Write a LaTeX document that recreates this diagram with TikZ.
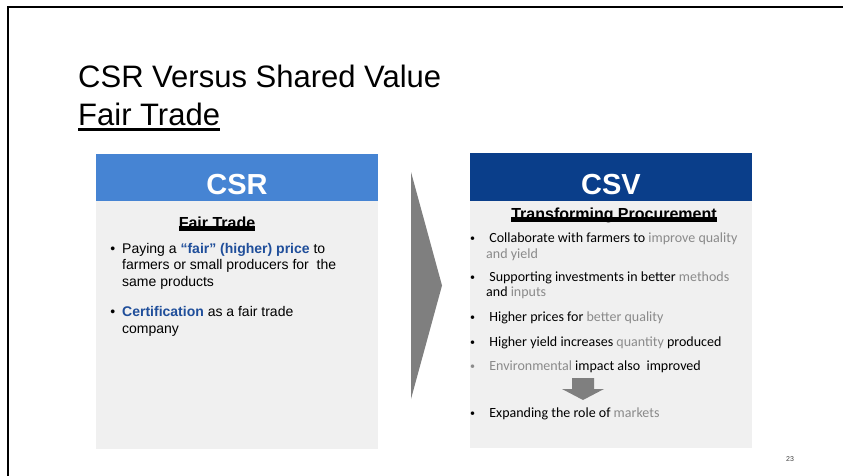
\documentclass[tikz,border=0pt]{standalone}
\usepackage{fontspec}
\setmainfont{Liberation Sans}
\newfontfamily\calibri{Carlito}
\definecolor{csrblue}{HTML}{4684D3}
\definecolor{csvblue}{HTML}{0A3E8A}
\definecolor{panelgray}{HTML}{F0F0F0}
\definecolor{keyblue}{HTML}{1F4E9A}
\definecolor{softgray}{HTML}{8A8A8A}
\definecolor{arrowgray}{HTML}{7F7F7F}
\newcommand\keytext[1]{\textcolor{keyblue}{\textbf{#1}}}
\newcommand\softtext[1]{\textcolor{softgray}{#1}}
\newcommand\csvdot{\llap{{\fontsize{10}{10}\selectfont\raisebox{1pt}{•}}\hspace{11pt}}}
\newsavebox\ulbox
% underline: #1 depth of the bar below the baseline, #2 its thickness
\newcommand\thickul[3]{\sbox\ulbox{#3}\rlap{\rule[-#1]{\wd\ulbox}{#2}}\usebox\ulbox}

\begin{document}
\begin{tikzpicture}[x=1pt, y=-1pt,
        head/.style={rectangle, anchor=north west, inner sep=0, minimum width=282, minimum height=47},
        panel/.style={rectangle, anchor=north west, inner sep=0, fill=panelgray, minimum width=282, minimum height=247},
        headtext/.style={anchor=base, inner sep=0, text=white, font=\fontsize{29}{34}\selectfont\bfseries},
        subhead/.style={anchor=base, inner sep=0, font=\fontsize{16}{19}\selectfont\bfseries},
        item/.style={anchor=base west, inner sep=0, align=left, font=\fontsize{14}{16.5}\selectfont},
        csvitem/.style={anchor=base west, inner sep=0, align=left, font=\calibri\fontsize{14}{15.5}\selectfont}
    ]
        \useasboundingbox (0,0) rectangle (843,476);
        \draw[line width=2.5] (8,478) -- (8,7) -- (845,7);

        % multi-line nodes sit on the baseline of their last line
        \node[anchor=base west, inner sep=0, align=left, font=\fontsize{31}{38}\selectfont] (title) at (78,126)
            {CSR Versus Shared Value\\\thickul{4.7pt}{3pt}{Fair Trade}};

        % left panel
        \node[head, fill=csrblue] (csrhead) at (96,154) {};
        \node[panel, minimum height=248] (csrbody) at (96,201) {};
        \node[headtext] (csrlabel) at (237,194) {CSR};
        \node[subhead] (fairtrade) at (217,228.5) {\thickul{2pt}{5pt}{Fair Trade}};
        \node[item] (paying) at (122,286)
            {\llap{•\hspace{7pt}}Paying a \keytext{“fair” (higher) price} to\\farmers or small producers for\ \ the\\same products};
        \node[item] (certify) at (122,333.2)
            {\llap{•\hspace{7pt}}\keytext{Certification} as a fair trade\\company};

        % separating chevron
        \fill[arrowgray] (411,172) -- (442,285.5) -- (411,399) -- cycle;

        % right panel
        \node[head, fill=csvblue, minimum height=48] (csvhead) at (470,153) {};
        \node[panel] (csvbody) at (470,201) {};
        \node[headtext] (csvlabel) at (611,194) {CSV};
        \node[subhead] (procure) at (614,219.5) {\thickul{2pt}{5pt}{Transforming Procurement}};
        \node[csvitem] (collab) at (486,258.2)
            {\csvdot\ Collaborate with farmers to \softtext{improve quality}\\\softtext{and yield}};
        \node[csvitem] (invest) at (486,296.5)
            {\csvdot\ Supporting investments in better \softtext{methods}\\and \softtext{inputs}};
        \node[csvitem] (prices) at (486,321.7)
            {\csvdot\ Higher prices for \softtext{better quality}};
        \node[csvitem] (yield) at (486,346)
            {\csvdot\ Higher yield increases \softtext{quantity} produced};
        \node[csvitem] (environ) at (486,370)
            {\textcolor{softgray}{\csvdot}\ \softtext{Environmental} impact also\ \ improved};
        \node[csvitem] (markets) at (486,417)
            {\csvdot\ Expanding the role of \softtext{markets}};
        \fill[arrowgray] (572,378) -- (594,378) -- (594,389) -- (604,389) -- (583,400)
            -- (562,389) -- (572,389) -- cycle;

        \node[anchor=base, inner sep=0, text=black!75, font=\fontsize{7}{8}\selectfont] (pagenum) at (790,461) {23};
    \end{tikzpicture}
\end{document}
